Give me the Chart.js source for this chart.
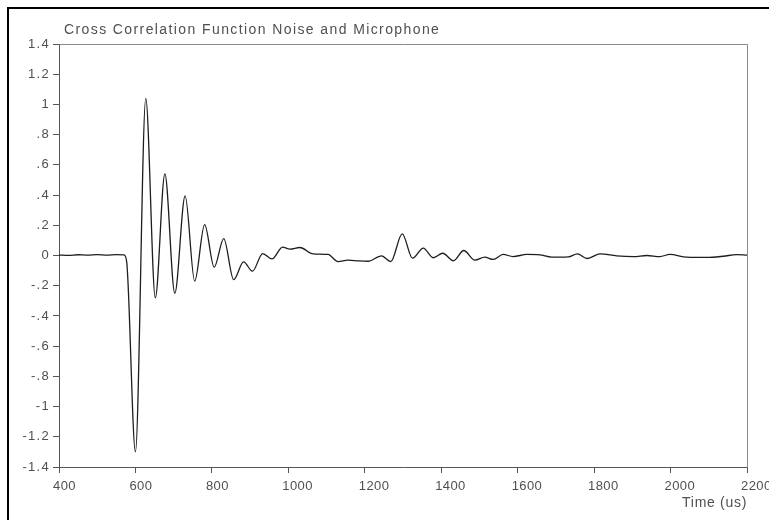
<!DOCTYPE html>
<html>
<head>
<meta charset="utf-8">
<script src="https://cdn.jsdelivr.net/npm/chart.js@4.4.1/dist/chart.umd.min.js"></script>
<style>
  html, body { margin: 0; padding: 0; background: #ffffff; }
  #wrap { width: 769px; height: 520px; }
</style>
</head>
<body>
<div id="wrap"><canvas id="c" width="769" height="520"></canvas></div>
<script>
// ---- data ----
const TITLE = 'Cross Correlation Function Noise and Microphone';
const X_TITLE = 'Time (us)';
const X_TICKS = [400, 600, 800, 1000, 1200, 1400, 1600, 1800, 2000, 2200];
const Y_TICKS = [-1.4, -1.2, -1, -0.8, -0.6, -0.4, -0.2, 0, 0.2, 0.4, 0.6, 0.8, 1, 1.2, 1.4];
const TIME = [400,425,450,475,500,525,550,570,577,600,627,652,677,703,730,755,781,806,831,857,883,906,933,957,985,1004,1030,1065,1104,1130,1156,1185,1209,1244,1268,1298,1325,1353,1379,1404,1432,1459,1488,1514,1536,1562,1588,1624,1658,1689,1733,1756,1782,1816,1859,1903,1938,1972,1998,2042,2095,2138,2173,2200];
const CORR = [0.003,0.001,0.005,0.002,0.006,0.003,0.006,0.004,-0.04,-1.30,1.04,-0.28,0.54,-0.25,0.395,-0.17,0.205,-0.077,0.112,-0.16,-0.042,-0.104,0.013,-0.023,0.055,0.042,0.053,0.011,0.007,-0.04,-0.031,-0.036,-0.038,-0.002,-0.04,0.143,-0.018,0.049,-0.015,0.015,-0.035,0.033,-0.031,-0.011,-0.026,0.007,-0.007,0.007,0.004,-0.011,-0.009,0.011,-0.02,0.011,-0.002,-0.007,0,-0.007,0.007,-0.011,-0.013,-0.005,0.006,0.002];

// ---- styling ----
const FONT_FAMILY = "'Liberation Sans', Arial, sans-serif";
const TEXT_COLOR = '#505050';
const AXIS_COLOR = '#555555';

function fmtY(v) {
  const r = Math.round(v * 10) / 10;
  if (r === 0) return '0';
  return String(r).replace(/^(-?)0\./, '$1.');
}

function withSpacing(obj, method, sp) {
  const orig = obj[method];
  obj[method] = function (...args) {
    const ctx = this.ctx;
    const prev = ctx.letterSpacing;
    ctx.letterSpacing = sp;
    const r = orig.apply(this, args);
    ctx.letterSpacing = prev || '0px';
    return r;
  };
}

const framePlugin = {
  id: 'frame',
  afterLayout(chart) {
    const tb = chart.titleBlock;
    if (tb) {
      tb.left = 64;
      if (!tb._spaced) { withSpacing(tb, 'draw', '1.4px'); tb._spaced = true; }
    }
    const sx = chart.scales.x, sy = chart.scales.y;
    if (sx && !sx._spaced) {
      withSpacing(sx, 'drawLabels', '0.4px');
      withSpacing(sx, 'drawTitle', '0.7px');
      sx._spaced = true;
    }
    if (sy && !sy._spaced) {
      withSpacing(sy, 'drawLabels', '1.3px');
      sy._spaced = true;
    }
  },
  afterDraw(chart) {
    const ctx = chart.ctx;
    const a = chart.chartArea;
    ctx.save();
    // top and right plot edges
    ctx.strokeStyle = '#8a8a8a';
    ctx.lineWidth = 1;
    ctx.beginPath();
    ctx.moveTo(Math.round(a.left) + 0.5, Math.round(a.top) + 0.5);
    ctx.lineTo(Math.round(a.right) + 0.5, Math.round(a.top) + 0.5);
    ctx.lineTo(Math.round(a.right) + 0.5, Math.round(a.bottom) + 0.5);
    ctx.stroke();
    // outer page frame
    ctx.strokeStyle = '#000000';
    ctx.lineWidth = 2;
    ctx.beginPath();
    ctx.moveTo(8, 530);
    ctx.lineTo(8, 8);
    ctx.lineTo(780, 8);
    ctx.stroke();
    ctx.restore();
  }
};

const chart = new Chart(document.getElementById('c'), {
  type: 'line',
  data: {
    datasets: [{
      data: TIME.map((t, i) => ({ x: t, y: CORR[i] })),
      borderColor: '#1e1e1e',
      borderWidth: 1.3,
      pointRadius: 0,
      fill: false,
      cubicInterpolationMode: 'monotone'
    }]
  },
  options: {
    responsive: false,
    animation: false,
    devicePixelRatio: 1,
    layout: { padding: { left: 0, right: 22, top: 0, bottom: 0 } },
    plugins: {
      legend: { display: false },
      tooltip: { enabled: false },
      title: {
        display: true,
        text: TITLE,
        align: 'start',
        color: TEXT_COLOR,
        font: { family: FONT_FAMILY, size: 14, weight: 'normal', lineHeight: 1.2 },
        padding: { top: 21.6, bottom: 5.6 }
      }
    },
    scales: {
      x: {
        type: 'linear',
        min: 400,
        max: 2200,
        afterBuildTicks(scale) { scale.ticks = X_TICKS.map(v => ({ value: v })); },
        afterFit(scale) { scale.height = 53; scale.paddingLeft = 0; scale.paddingRight = 0; },
        grid: { drawOnChartArea: false, drawTicks: true, tickLength: 6, color: AXIS_COLOR },
        border: { display: true, color: AXIS_COLOR, width: 1 },
        ticks: {
          color: TEXT_COLOR,
          font: { family: FONT_FAMILY, size: 13 },
          padding: 6,
          align: 'start',
          labelOffset: -6,
          maxRotation: 0,
          autoSkip: false,
          callback: v => String(v)
        },
        title: {
          display: true,
          text: X_TITLE,
          align: 'end',
          color: TEXT_COLOR,
          font: { family: FONT_FAMILY, size: 14, lineHeight: 1.2 },
          padding: { top: 0, bottom: 8.6 }
        }
      },
      y: {
        type: 'linear',
        min: -1.4,
        max: 1.4,
        afterBuildTicks(scale) { scale.ticks = Y_TICKS.map(v => ({ value: v })); },
        afterFit(scale) { scale.width = 59; scale.paddingTop = 0; scale.paddingBottom = 0; },
        grid: { drawOnChartArea: false, drawTicks: true, tickLength: 6, color: AXIS_COLOR },
        border: { display: true, color: AXIS_COLOR, width: 1 },
        ticks: {
          color: TEXT_COLOR,
          font: { family: FONT_FAMILY, size: 13 },
          padding: 3,
          autoSkip: false,
          callback: v => fmtY(v)
        }
      }
    }
  },
  plugins: [framePlugin]
});
</script>
</body>
</html>
